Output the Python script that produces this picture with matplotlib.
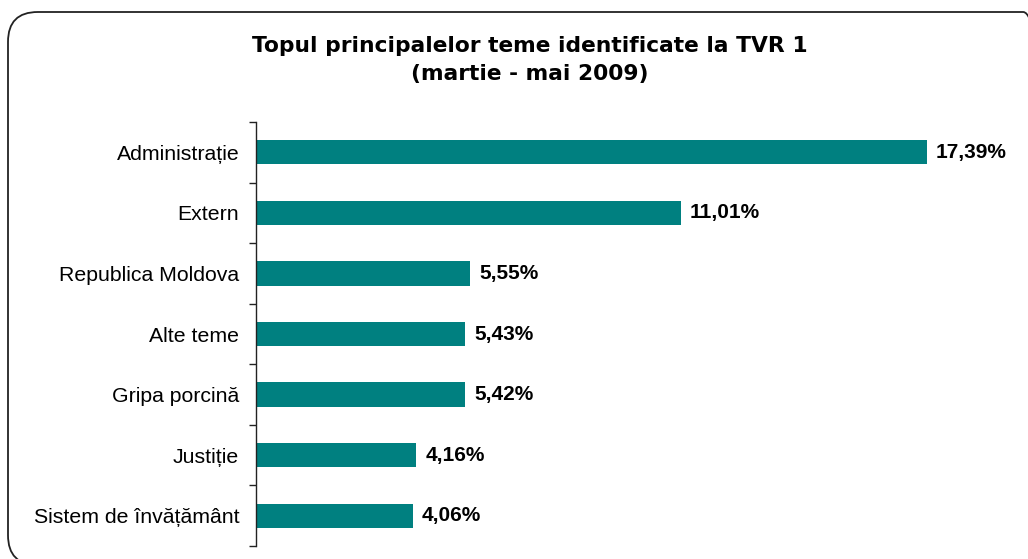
import matplotlib
matplotlib.use("Agg")
import matplotlib.pyplot as plt
from matplotlib.patches import FancyBboxPatch
import numpy as np

categories = ["Administrație", "Extern", "Republica Moldova", "Alte teme",
              "Gripa porcină", "Justiție", "Sistem de învățământ"]
values = [17.39, 11.01, 5.55, 5.43, 5.42, 4.16, 4.06]
value_labels = ["17,39%", "11,01%", "5,55%", "5,43%", "5,42%", "4,16%", "4,06%"]

fig = plt.figure(figsize=(10.28, 5.59), dpi=100)

# rounded frame around the chart (right and bottom edges run off the image)
frame = FancyBboxPatch((8 / 1028, -6 / 559), 1045 / 1028, 553 / 559,
                       boxstyle="round,pad=0,rounding_size=0.029",
                       transform=fig.transFigure, fill=False,
                       edgecolor="#222222", linewidth=1.3,
                       mutation_aspect=1028 / 559)
fig.patches.append(frame)

ax = fig.add_axes([256 / 1028, 13 / 559, 733 / 1028, 424 / 559])
y = np.arange(len(categories))
ax.barh(y, values, height=0.4, color="#008080")
ax.set_xlim(0, 19)
ax.set_ylim(len(categories) - 0.5, -0.5)

for v, lab, yy in zip(values, value_labels, y):
    ax.annotate(lab, (v, yy), xytext=(6.5, 0), textcoords="offset points",
                va="center", ha="left", fontsize=15, fontweight="bold",
                family="Liberation Sans")

ax.set_yticks(y)
ax.set_yticklabels(categories, fontsize=15.3, family="Liberation Sans")
ax.set_yticks(np.arange(-0.5, len(categories)), minor=True)
ax.tick_params(axis="y", which="major", length=0, pad=12)
ax.tick_params(axis="y", which="minor", length=5, width=1, color="#222222")
ax.set_xticks([])
for s in ["top", "right", "bottom"]:
    ax.spines[s].set_visible(False)
ax.spines["left"].set_color("#222222")
ax.spines["left"].set_linewidth(1)

fig.text(530 / 1028, 1 - 60 / 559,
         "Topul principalelor teme identificate la TVR 1\n(martie - mai 2009)",
         ha="center", va="center", fontsize=15.7, fontweight="bold",
         family="DejaVu Sans", linespacing=1.45)

fig.savefig("out.png", dpi=100)
